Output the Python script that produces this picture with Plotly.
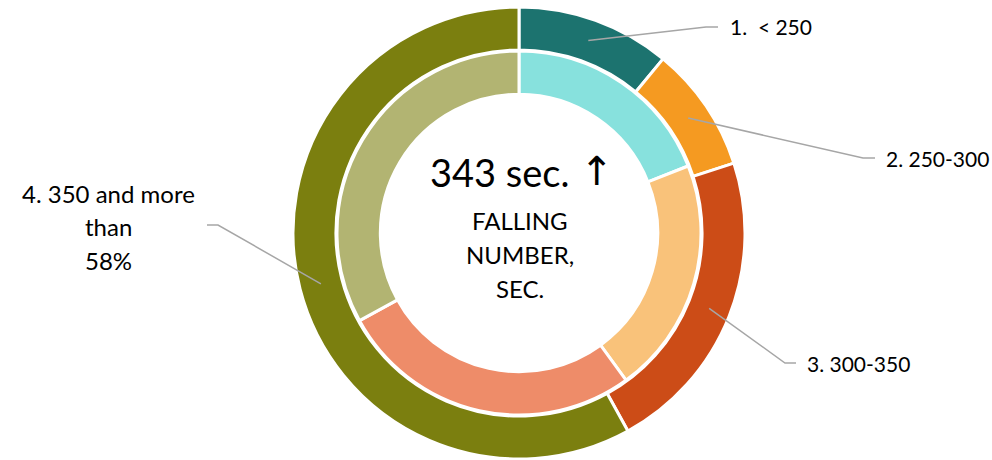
import math
import plotly.graph_objects as go

# ---- data ----
outer_labels = ["1.  < 250", "2. 250-300", "3. 300-350", "4. 350 and more than 58%"]
outer_values = [11, 9, 22, 58]
inner_labels = ["inner 1", "inner 2", "inner 3", "inner 4"]
inner_values = [19, 21, 27, 33]
outer_colors = ["#1C736F", "#F59A21", "#CC4C17", "#7B7F0F"]
inner_colors = ["#87E1DD", "#F9C27A", "#EE8C69", "#B2B472"]
label4_lines = ["4. 350 and more", "than", "58%"]
center_value = "343 sec."
center_arrow = "↑"
center_sub_lines = ["FALLING", "NUMBER,", "SEC."]

W, H = 992, 460
CX, CY = 519, 233          # pixel centre (from top)
R_OUT, R_IN = 226, 182
HOLE_OUT, HOLE_IN = 0.81, 0.762
FONT = "Lato"

def px(x, y):
    return x / W, 1 - y / H

def dom(r):
    cx, cy = px(CX, CY)
    return dict(x=[cx - r / W, cx + r / W], y=[cy - r / H, cy + r / H])

fig = go.Figure()
fig.add_trace(go.Pie(
    labels=outer_labels, values=outer_values, hole=HOLE_OUT, sort=False,
    direction="clockwise", rotation=0, domain=dom(R_OUT),
    marker=dict(colors=outer_colors, line=dict(color="white", width=3)),
    textinfo="none", hoverinfo="label+value", showlegend=False))
fig.add_trace(go.Pie(
    labels=inner_labels, values=inner_values, hole=HOLE_IN, sort=False,
    direction="clockwise", rotation=0, domain=dom(R_IN),
    marker=dict(colors=inner_colors, line=dict(color="white", width=3)),
    textinfo="none", hoverinfo="label+value", showlegend=False))

# leader lines: anchor at mid-angle, mid-ring of outer slices
label_pos = [(728, 27), (884, 158), (805, 363), (108, 227)]
elbow = [(718, 706), (875, 863), (796, 785), (207, 218)]
total = sum(outer_values)
cum = 0
r_mid = R_OUT * (1 + HOLE_OUT) / 2
shapes = []
annotations = []
for i, v in enumerate(outer_values):
    ang = math.radians((cum + v / 2) / total * 360)
    cum += v
    ax = CX + r_mid * math.sin(ang)
    ay = CY - r_mid * math.cos(ang)
    tx, ty = label_pos[i]
    e0, e1 = elbow[i]
    line_y = ty if i < 3 else 225
    path = f"M {e0/W} {1-line_y/H} L {e1/W} {1-line_y/H} L {ax/W} {1-ay/H}"
    shapes.append(dict(type="path", xref="paper", yref="paper", path=path,
                       line=dict(color="#A6A6A6", width=1.5)))
    if i < 3:
        x, y = px(tx, ty)
        annotations.append(dict(x=x, y=y, xref="paper", yref="paper",
                                text=outer_labels[i], showarrow=False,
                                xanchor="left", yanchor="middle",
                                font=dict(family=FONT, size=21, color="#000")))

for txt, yy in zip(label4_lines, [193, 227, 260]):
    x, y = px(108, yy)
    annotations.append(dict(x=x, y=y, xref="paper", yref="paper", text=txt,
                            showarrow=False, xanchor="center", yanchor="middle",
                            font=dict(family=FONT, size=24, color="#000")))

x, y = px(428, 172)
annotations.append(dict(x=x, y=y, xref="paper", yref="paper", text=center_value,
                        showarrow=False, xanchor="left", yanchor="middle",
                        font=dict(family=FONT, size=38, color="#000")))
x, y = px(597, 171)
annotations.append(dict(x=x, y=y, xref="paper", yref="paper", text=center_arrow,
                        showarrow=False, xanchor="center", yanchor="middle",
                        font=dict(family="DejaVu Sans", size=40, color="#000")))
for txt, yy in zip(center_sub_lines, [220, 254, 288]):
    x, y = px(520, yy)
    annotations.append(dict(x=x, y=y, xref="paper", yref="paper", text=txt,
                            showarrow=False, xanchor="center", yanchor="middle",
                            font=dict(family=FONT, size=24, color="#000")))

fig.update_layout(width=W, height=H, margin=dict(l=0, r=0, t=0, b=0),
                  paper_bgcolor="white", plot_bgcolor="white",
                  shapes=shapes, annotations=annotations, showlegend=False)
fig.write_html("out.html", config={"displayModeBar": False},
               post_script="document.body.style.margin='0';")
